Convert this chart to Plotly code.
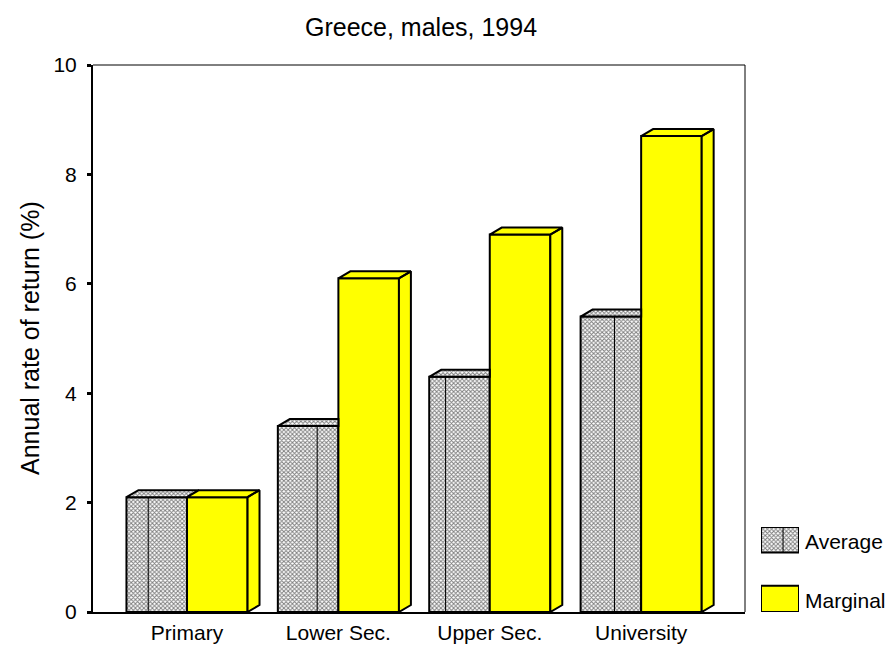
import plotly.graph_objects as go

# ---- data ----
categories = ["Primary", "Lower Sec.", "Upper Sec.", "University"]
average = [2.1, 3.4, 4.3, 5.4]
marginal = [2.1, 6.1, 6.9, 8.7]
y_ticks = [0, 2, 4, 6, 8, 10]
series_names = ["Average", "Marginal"]
title_text = "Greece, males, 1994"
y_title = "Annual rate of return (%)"

# ---- style / layout constants ----
W, H = 890, 645
PL, PR, PT, PB = 93, 745, 65, 612       # plot box in pixels
BAR_W = 0.4
DX = 0.079                               # 3D depth (x units)
DY = 0.128                               # 3D depth (y units)
AVG_SEAM = [0.36, 0.65, 0.27, 0.56]      # seam line position in avg face (fraction)
FONT = "Liberation Sans, Arial, sans-serif"
YELLOW = "#FFFF00"
PATTERN = dict(shape="x", fgcolor="#000000", bgcolor="white", size=3, solidity=0.55)

def px(x):
    return x / W

def py(y):
    return 1 - y / H

idx = list(range(len(categories)))

fig = go.Figure()

# front faces
fig.add_trace(go.Bar(
    x=idx, y=average, offset=-BAR_W, width=BAR_W, name=series_names[0],
    marker=dict(color="white", pattern=PATTERN, line=dict(color="black", width=2)),
    showlegend=False, hoverinfo="y"))
fig.add_trace(go.Bar(
    x=idx, y=marginal, offset=0, width=BAR_W, name=series_names[1],
    marker=dict(color=YELLOW, line=dict(color="black", width=2)),
    showlegend=False, hoverinfo="y"))

# average top faces (clipped where the marginal bar is taller)
ax, ay = [], []
for i, v, m in zip(idx, average, marginal):
    xl = i - BAR_W
    xr = i + DX if m <= v else i
    ax += [xl, xl + DX, xr, i, xl, None]
    ay += [v, v + DY, v + DY, v, v, None]
fig.add_trace(go.Scatter(
    x=ax, y=ay, mode="lines", fill="toself", fillcolor="white", fillpattern=PATTERN,
    line=dict(color="black", width=2), showlegend=False, hoverinfo="skip"))

# average seam lines
sx, sy = [], []
for i, v, f in zip(idx, average, AVG_SEAM):
    xs = i - BAR_W + f * BAR_W
    sx += [xs, xs, None]
    sy += [0, v, None]
fig.add_trace(go.Scatter(
    x=sx, y=sy, mode="lines", line=dict(color="black", width=1),
    showlegend=False, hoverinfo="skip"))

# marginal top and side faces
mx, my = [], []
for i, m in zip(idx, marginal):
    xl, xr = i, i + BAR_W
    mx += [xl, xl + DX, xr + DX, xr, xl, None]
    my += [m, m + DY, m + DY, m, m, None]
    mx += [xr, xr + DX, xr + DX, xr, xr, None]
    my += [m, m + DY, DY, 0, m, None]
fig.add_trace(go.Scatter(
    x=mx, y=my, mode="lines", fill="toself", fillcolor=YELLOW,
    line=dict(color="black", width=2), showlegend=False, hoverinfo="skip"))

# ---- legend swatches on a hidden mini-axis ----
fig.add_trace(go.Scatter(
    x=[0, 1, 1, 0, 0], y=[0.70, 0.70, 1, 1, 0.70], mode="lines", fill="toself",
    fillcolor="white", fillpattern=PATTERN, line=dict(color="black", width=2),
    xaxis="x2", yaxis="y2", showlegend=False, hoverinfo="skip"))
fig.add_trace(go.Scatter(
    x=[0.58, 0.58], y=[0.70, 1], mode="lines", line=dict(color="black", width=1),
    xaxis="x2", yaxis="y2", showlegend=False, hoverinfo="skip"))
fig.add_trace(go.Scatter(
    x=[0, 1, 1, 0, 0], y=[0, 0, 0.31, 0.31, 0], mode="lines", fill="toself",
    fillcolor=YELLOW, line=dict(color="black", width=2),
    xaxis="x2", yaxis="y2", showlegend=False, hoverinfo="skip"))

x_range = [-0.621, 3.686]

fig.update_layout(
    width=W, height=H,
    margin=dict(l=0, r=0, t=0, b=0),
    paper_bgcolor="white", plot_bgcolor="white",
    barmode="overlay",
    font=dict(family=FONT, color="black", size=20),
    xaxis=dict(
        domain=[px(PL), px(PR)], range=x_range, tickmode="array",
        tickvals=idx, ticktext=categories, showgrid=False, zeroline=False,
        showline=True, linecolor="black", linewidth=2, ticks="",
        tickfont=dict(size=21), ticklabelstandoff=1, automargin=False,
        fixedrange=True),
    yaxis=dict(
        domain=[py(PB), py(PT)], range=[0, 10], tickmode="array",
        tickvals=y_ticks, showgrid=False, zeroline=False,
        showline=True, linecolor="black", linewidth=2,
        ticks="outside", ticklen=4, tickwidth=3, tickcolor="black",
        tickfont=dict(size=21), ticklabelstandoff=6, automargin=False,
        fixedrange=True),
    xaxis2=dict(domain=[px(761), px(799)], range=[0, 1], visible=False,
                anchor="y2", fixedrange=True),
    yaxis2=dict(domain=[py(612), py(527)], range=[0, 1], visible=False,
                anchor="x2", fixedrange=True),
    shapes=[
        dict(type="line", xref="x domain", yref="y domain", x0=0, x1=1, y0=1, y1=1,
             line=dict(color="black", width=1)),
        dict(type="line", xref="x domain", yref="y domain", x0=1, x1=1, y0=0, y1=1,
             line=dict(color="black", width=1)),
    ],
    annotations=[
        dict(text=title_text, x=px(421), y=py(27), xref="paper", yref="paper",
             showarrow=False, font=dict(size=25), xanchor="center", yanchor="middle"),
        dict(text=y_title, x=px(30), y=py(338), xref="paper", yref="paper",
             showarrow=False, font=dict(size=25), textangle=-90,
             xanchor="center", yanchor="middle"),
        dict(text=series_names[0], x=px(803), y=py(541), xref="paper", yref="paper",
             showarrow=False, font=dict(size=21), xanchor="left", yanchor="middle"),
        dict(text=series_names[1], x=px(803), y=py(600), xref="paper", yref="paper",
             showarrow=False, font=dict(size=21), xanchor="left", yanchor="middle"),
    ],
)

fig.write_html("out.html")
